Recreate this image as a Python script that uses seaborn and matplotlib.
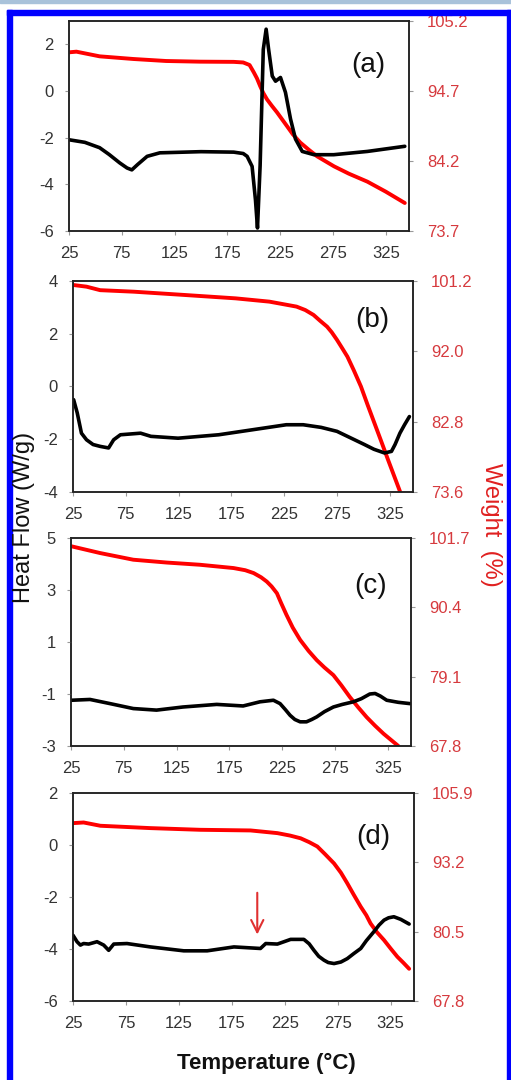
import numpy as np
import matplotlib
matplotlib.use('Agg')
import matplotlib.pyplot as plt
from matplotlib.patches import Rectangle
import seaborn as sns

# panel (a)
a_hf_t = [25, 40, 54, 63, 73, 80, 84.5, 90, 99, 111, 150, 181, 190, 193.7, 198.4, 201.6, 203.5, 206, 209,
          211.7, 214, 217.5, 220.6, 225.3, 230, 234.8, 239.5, 245.9, 257, 275.7, 307.6, 343]
a_hf = [-2.09, -2.2, -2.43, -2.72, -3.08, -3.3, -3.38, -3.15, -2.8, -2.65, -2.6, -2.62, -2.68, -2.8, -3.23,
        -4.67, -5.87, -3.2, 1.78, 2.65, 1.8, 0.64, 0.42, 0.58, -0.06, -1.2, -2.06, -2.59, -2.73, -2.73, -2.59, -2.37]
a_w_t = [25, 32, 54, 86, 117, 149, 181, 190, 196, 200, 203, 206, 209, 212.5, 217, 222, 231.6, 237, 244, 252,
         260, 276, 290, 307.6, 325, 343]
a_w = [100.5, 100.6, 99.9, 99.5, 99.2, 99.1, 99.07, 98.98, 98.6, 97.5, 96.6, 95.45, 94.4, 93.45, 92.5, 91.5,
       89.4, 88.2, 86.97, 85.9, 84.9, 83.4, 82.3, 81.1, 79.6, 77.9]

# panel (b)
b_hf_t = [25.6, 29, 33, 37.8, 44, 50.7, 58.7, 63.5, 69.9, 89, 98.8, 124.5, 163, 195, 227, 243, 260, 275,
          288, 301, 310, 320, 326.6, 330, 334.6, 339, 343.6]
b_hf = [-0.5, -1.0, -1.77, -2.02, -2.2, -2.27, -2.33, -2.02, -1.83, -1.77, -1.89, -1.96, -1.83, -1.64, -1.45,
        -1.45, -1.55, -1.7, -1.95, -2.2, -2.38, -2.52, -2.46, -2.2, -1.77, -1.45, -1.14]
b_w_t = [25, 37.8, 50.7, 82.7, 130.9, 179, 211, 236.7, 245, 252.8, 259, 265.6, 270, 275, 280, 284.9, 291,
         297.7, 304, 310.5, 317, 323.4, 334.6, 336]
b_w = [100.68, 100.46, 100.0, 99.8, 99.37, 98.93, 98.5, 97.85, 97.4, 96.76, 96.0, 95.23, 94.5, 93.5, 92.4,
       91.3, 89.5, 87.4, 85.0, 82.6, 80.2, 77.8, 73.7, 72.6]

# panel (c)
c_hf_t = [25.6, 43, 62, 84, 106, 131, 163, 188, 204, 216.7, 223, 228, 232.5, 237, 242, 248, 253, 257.7,
          265, 273.5, 282, 292.5, 300, 308, 313, 318, 324, 335, 346]
c_hf = [-1.24, -1.21, -1.37, -1.56, -1.62, -1.5, -1.4, -1.46, -1.3, -1.24, -1.37, -1.6, -1.82, -1.98, -2.07,
        -2.07, -1.98, -1.88, -1.68, -1.5, -1.4, -1.3, -1.18, -1.0, -0.98, -1.08, -1.24, -1.32, -1.37]
c_w_t = [25.6, 52.5, 84, 115.6, 147, 179, 190, 198, 205, 210.4, 215, 220, 224, 229, 235, 242, 250, 257.7,
         265, 273.5, 281, 289, 297, 305, 313, 321, 328, 335]
c_w = [100.34, 99.25, 98.16, 97.7, 97.34, 96.8, 96.45, 95.98, 95.3, 94.6, 93.8, 92.7, 91.1, 89.2, 87.1, 85.1,
       83.3, 81.8, 80.6, 79.35, 77.7, 75.8, 74.1, 72.5, 71.1, 69.8, 68.8, 67.8]

# panel (d)
d_hf_t = [25, 28.8, 32, 35, 39.8, 47.7, 54, 58.7, 63.5, 76, 98, 129.6, 151.7, 177, 202, 207, 218, 230.5,
          243, 248, 252.5, 257, 262, 266, 271.5, 278, 284, 290, 296.7, 302, 309, 314, 318.7, 323, 328, 334.5,
          338, 342.4]
d_hf = [-3.47, -3.72, -3.85, -3.79, -3.81, -3.72, -3.85, -4.05, -3.81, -3.79, -3.92, -4.07, -4.07, -3.92,
        -3.98, -3.79, -3.81, -3.63, -3.63, -3.8, -4.05, -4.28, -4.43, -4.52, -4.56, -4.5, -4.37, -4.18, -3.98,
        -3.68, -3.34, -3.08, -2.89, -2.8, -2.76, -2.86, -2.94, -3.04]
d_w_t = [25, 35, 50.8, 98, 145, 192.7, 218, 230, 240, 248, 255.7, 263, 271.5, 278, 284, 290, 296.7, 302,
         306, 312, 318.7, 325, 331.3, 337, 342.4]
d_w = [100.38, 100.5, 99.9, 99.47, 99.16, 99.04, 98.55, 98.1, 97.6, 96.9, 96.1, 94.7, 93.0, 91.3, 89.36,
       87.3, 85.07, 83.5, 82.0, 80.4, 78.95, 77.4, 75.9, 74.8, 73.7]

panels = ['(a)', '(b)', '(c)', '(d)']
hf_ticks = [[-6, -4, -2, 0, 2], [-4, -2, 0, 2, 4], [-3, -1, 1, 3, 5], [-6, -4, -2, 0, 2]]
hf_lims = [(-6, 3), (-4, 4), (-3, 5), (-6, 2)]
w_ticks = [[73.7, 84.2, 94.7, 105.2], [73.6, 82.8, 92.0, 101.2], [67.8, 79.1, 90.4, 101.7],
           [67.8, 80.5, 93.2, 105.9]]
x_ticks = [25, 75, 125, 175, 225, 275, 325]

# arrow in panel (d)
arrow_t = 199
arrow_y = (-1.73, -3.55)

sns.set_style('ticks')
plt.rcParams['font.family'] = ['Liberation Sans', 'DejaVu Sans']
plt.rcParams['axes.unicode_minus'] = False

W, H = 511, 1080
fig = plt.figure(figsize=(W / 100, H / 100), dpi=100)

# frame of the figure
fig.patches.append(Rectangle((0, 1 - 3 / H), 1, 3 / H, transform=fig.transFigure, color='#a9c2da', zorder=0))
fig.patches.append(Rectangle((7 / W, 1 - 15 / H), 1, 5 / H, transform=fig.transFigure, color='#0000ff', zorder=0))
fig.patches.append(Rectangle((7 / W, 0), 5 / W, 1 - 10 / H, transform=fig.transFigure, color='#0000ff', zorder=0))
fig.patches.append(Rectangle((507 / W, 0), 5 / W, 1 - 10 / H, transform=fig.transFigure, color='#0000ff', zorder=0))

# axes boxes in pixels: left, right, top, bottom
boxes = [(69, 409, 21, 231), (73, 413, 281, 492), (71, 411, 538, 746), (73, 414, 793, 1001)]
label_pos = [(0.88, 0.79), (0.88, 0.815), (0.88, 0.77), (0.88, 0.79)]

data = [(a_hf_t, a_hf, a_w_t, a_w), (b_hf_t, b_hf, b_w_t, b_w),
        (c_hf_t, c_hf, c_w_t, c_w), (d_hf_t, d_hf, d_w_t, d_w)]

red_txt = '#d63a3e'
for i, (ht, hv, wt, wv) in enumerate(data):
    l, r, t, b = boxes[i]
    ax = fig.add_axes([l / W, 1 - b / H, (r - l) / W, (b - t) / H])
    ax2 = ax.twinx()
    sns.lineplot(x=wt, y=wv, ax=ax2, color='#ff0000', lw=2.8, sort=False)
    sns.lineplot(x=ht, y=hv, ax=ax, color='black', lw=2.6, sort=False)
    ax.set_zorder(ax2.get_zorder() + 1)
    ax.patch.set_visible(False)

    ax.set_xlim(25, 347)
    ax.set_ylim(*hf_lims[i])
    ax.set_yticks(hf_ticks[i])
    ax.set_xticks(x_ticks)
    ax2.set_ylim(w_ticks[i][0], w_ticks[i][-1])
    ax2.set_yticks(w_ticks[i])
    ax2.set_yticklabels(['%.1f' % v for v in w_ticks[i]])
    for a in (ax, ax2):
        a.set_xlabel('')
        a.set_ylabel('')
        for s in a.spines.values():
            s.set_visible(True)
            s.set_linewidth(1.1)
            s.set_color('#222222')
    ax.tick_params(axis='both', direction='out', length=3, width=0.8, color='#999999',
                   labelsize=12, labelcolor='#333333', pad=8)
    ax2.tick_params(axis='y', direction='out', length=3, width=0.8, color='#999999',
                    labelsize=12, labelcolor=red_txt, pad=10)
    ax.text(label_pos[i][0], label_pos[i][1], panels[i], transform=ax.transAxes,
            ha='center', va='center', fontsize=20, color='#111111')

    if i == 3:
        ax.annotate('', xy=(arrow_t, arrow_y[1]), xytext=(arrow_t, arrow_y[0]),
                    arrowprops=dict(arrowstyle='->', color='#e03030', lw=1.5, mutation_scale=22))

fig.text(24 / W, 1 - 517 / H, 'Heat Flow (W/g)', rotation=90, ha='center', va='center',
         fontsize=17, color='#111111')
fig.text(491 / W, 1 - 525 / H, 'Weight  (%)', rotation=270, ha='center', va='center',
         fontsize=17, color='#e02020')
fig.text(266 / W, 1 - 1063 / H, 'Temperature (°C)', ha='center', va='center',
         fontsize=16, fontweight='bold', color='#111111')

fig.savefig('out.png', dpi=100)
